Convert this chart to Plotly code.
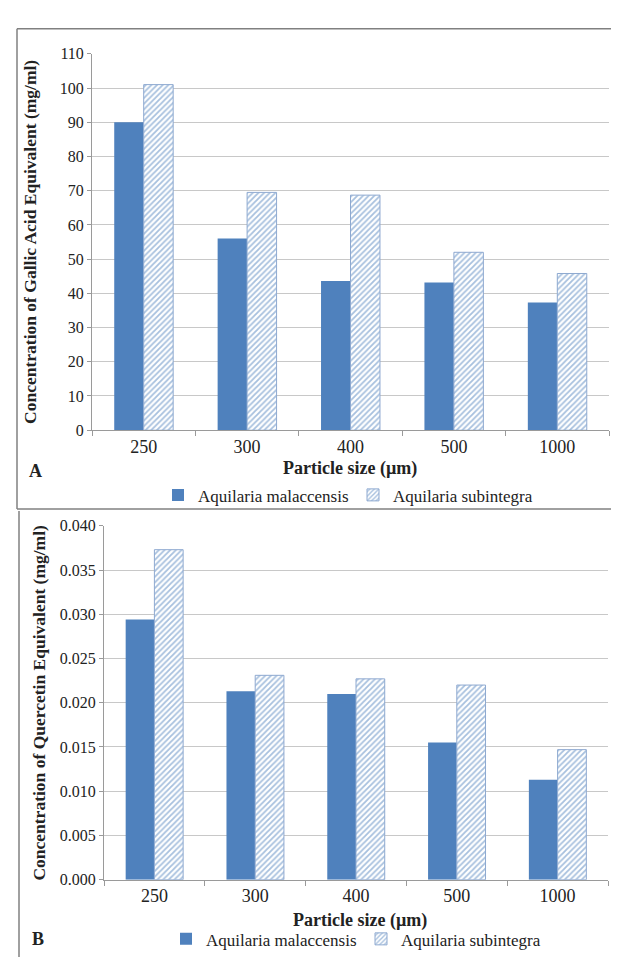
import plotly.graph_objects as go

categories = ["250", "300", "400", "500", "1000"]
series_names = ["Aquilaria malaccensis", "Aquilaria subintegra"]
gallic_malaccensis = [90.0, 56.0, 43.6, 43.2, 37.3]
gallic_subintegra = [101.0, 69.5, 68.7, 52.0, 45.8]
quercetin_malaccensis = [0.0294, 0.0213, 0.0210, 0.0155, 0.0113]
quercetin_subintegra = [0.0373, 0.0231, 0.0227, 0.0220, 0.0147]
gallic_ticks = list(range(0, 111, 10))
quercetin_ticks = [i * 0.005 for i in range(9)]

W, H = 619, 958
BLUE = "#4F81BD"
FONT = "Liberation Serif"

def px(x):
    return x / W

def py(y):
    return 1 - y / H

fig = go.Figure()

def add_pair(xa, ya, leg, m_vals, s_vals):
    fig.add_trace(go.Bar(
        x=categories, y=m_vals, name=series_names[0], xaxis=xa, yaxis=ya, legend=leg,
        marker=dict(color=BLUE, line=dict(width=0)),
    ))
    fig.add_trace(go.Bar(
        x=categories, y=s_vals, name=series_names[1], xaxis=xa, yaxis=ya, legend=leg,
        marker=dict(color="white", line=dict(width=1, color="#8EA9D0"),
                    pattern=dict(shape="/", fgcolor=BLUE, bgcolor="white", size=4, solidity=0.45)),
    ))

add_pair("x", "y", "legend", gallic_malaccensis, gallic_subintegra)
add_pair("x2", "y2", "legend2", quercetin_malaccensis, quercetin_subintegra)

ytickfont = dict(family=FONT, size=16, color="#222")
xtickfont = dict(family=FONT, size=18, color="#222")
xcommon = dict(type="category", showgrid=False, showline=True, linecolor="#9a9a9a", linewidth=1,
               ticks="outside", tickson="boundaries", ticklen=5, tickcolor="#9a9a9a",
               tickfont=xtickfont)
ycommon = dict(showgrid=True, gridcolor="#c8c8c8", gridwidth=1, showline=True, linecolor="#9a9a9a",
               linewidth=1, ticks="outside", ticklen=4, tickcolor="#9a9a9a", tickfont=ytickfont,
               zeroline=False)

legfont = dict(family=FONT, size=17, color="#222")

fig.update_layout(
    width=W, height=H, margin=dict(l=0, r=0, t=0, b=0),
    paper_bgcolor="white", plot_bgcolor="white",
    barmode="group", bargap=0.43, bargroupgap=0,
    font=dict(family=FONT, color="#222"),
    xaxis=dict(domain=[px(84), px(601)], anchor="y", **xcommon),
    yaxis=dict(domain=[py(421.7), py(38.5)], anchor="x", range=[0, 110],
               tickvals=gallic_ticks, **ycommon),
    xaxis2=dict(domain=[px(96), px(600)], anchor="y2", **xcommon),
    yaxis2=dict(domain=[py(879.3), py(519)], anchor="x2", range=[0, 0.040],
                tickvals=quercetin_ticks, tickformat=".3f", **ycommon),
    legend=dict(orientation="h", x=px(345), y=py(488), xanchor="center", yanchor="middle",
                font=legfont, itemwidth=30, tracegroupgap=0,
                entrywidth=150, entrywidthmode="pixels",
                bgcolor="rgba(0,0,0,0)"),
    legend2=dict(orientation="h", x=px(353), y=py(940), xanchor="center", yanchor="middle",
                 font=legfont, itemwidth=30, tracegroupgap=0,
                 entrywidth=150, entrywidthmode="pixels",
                 bgcolor="rgba(0,0,0,0)"),
)

anns = [
    dict(text="<b>Concentration of Gallic Acid Equivalent (mg/ml)</b>", x=px(22), y=py(230),
         textangle=-90, font=dict(family=FONT, size=17.5)),
    dict(text="<b>Particle size (µm)</b>", x=px(342), y=py(461), font=dict(family=FONT, size=18)),
    dict(text="<b>A</b>", x=px(27), y=py(463), font=dict(family=FONT, size=18)),
    dict(text="<b>Concentration of Quercetin Equivalent (mg/ml)</b>", x=px(31), y=py(699),
         textangle=-90, font=dict(family=FONT, size=17.5)),
    dict(text="<b>Particle size (µm)</b>", x=px(352), y=py(921), font=dict(family=FONT, size=18)),
    dict(text="<b>B</b>", x=px(30), y=py(940), font=dict(family=FONT, size=18)),
]
for a in anns:
    fig.add_annotation(xref="paper", yref="paper", showarrow=False,
                       xanchor="center", yanchor="middle", **a)

border = dict(color="#808080", width=1.5)
fig.add_shape(type="line", xref="paper", yref="paper", x0=px(9), x1=1, y0=py(13), y1=py(13), line=border)
fig.add_shape(type="line", xref="paper", yref="paper", x0=px(9), x1=px(9), y0=py(13), y1=py(502), line=border)
fig.add_shape(type="line", xref="paper", yref="paper", x0=px(9), x1=1, y0=py(502), y1=py(502), line=border)
fig.add_shape(type="line", xref="paper", yref="paper", x0=px(11), x1=px(11), y0=py(504), y1=0, line=border)

fig.write_html("out.html")
